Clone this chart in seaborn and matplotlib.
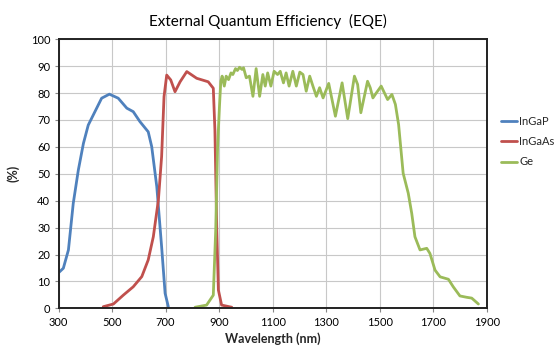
import numpy as np
import pandas as pd
import matplotlib
matplotlib.use("Agg")
import matplotlib.pyplot as plt
import seaborn as sns

# ---- data ----
ingap_wl = [300, 318, 337, 355, 374, 393, 411, 430, 461, 490, 523, 555, 579, 604, 635, 648, 667, 685, 698, 710]
ingap_eqe = [13.2, 14.9, 21.7, 39.0, 51.4, 61.3, 68.1, 71.9, 78.1, 79.6, 78.1, 74.4, 73.1, 69.4, 65.6, 60.1, 45.2, 22.9, 5.6, 0.6]

ingaas_wl = [467, 505, 542, 579, 611, 635, 654, 673, 685, 694, 704, 719, 735, 754, 779, 816, 859, 878, 884, 891, 897, 909, 947]
ingaas_eqe = [0.6, 1.6, 4.9, 8.0, 11.8, 18.0, 26.6, 40.3, 56.4, 78.7, 86.7, 84.9, 80.5, 84.2, 88.0, 85.5, 84.2, 81.8, 66.3, 29.1, 6.8, 1.2, 0.4]

ge_wl = [810, 853, 878, 887, 894, 901, 906, 911, 919, 926, 935, 944, 951, 961, 968, 976, 985, 991,
         1001, 1013, 1026, 1038, 1051, 1063, 1072, 1081, 1093, 1105, 1118, 1128, 1140, 1150, 1161,
         1175, 1188, 1201, 1213, 1225, 1238, 1250, 1263, 1275, 1288, 1309, 1334, 1359, 1380, 1405,
         1417, 1429, 1454, 1464, 1474, 1487, 1505, 1514, 1529, 1545, 1558, 1570, 1587, 1606, 1619,
         1631, 1650, 1675, 1687, 1706, 1725, 1756, 1774, 1799, 1824, 1843, 1868]
ge_eqe = [0.4, 1.2, 4.9, 29.0, 60.0, 75.0, 84.4, 86.3, 82.6, 86.3, 85.0, 87.5, 86.9, 89.1, 88.4, 89.6, 88.8, 89.4,
          85.7, 86.3, 78.8, 89.1, 78.8, 86.9, 82.6, 87.5, 82.6, 88.1, 86.9, 88.1, 83.8, 87.5, 82.6,
          88.1, 82.6, 87.8, 86.9, 80.7, 86.3, 82.6, 78.8, 82.0, 78.2, 83.6, 71.4, 83.8, 70.5, 86.3,
          83.2, 72.7, 84.4, 82.0, 78.2, 80.1, 82.6, 80.7, 77.6, 79.5, 75.8, 68.3, 50.2, 42.8, 35.3,
          26.6, 21.7, 22.3, 20.4, 14.2, 11.7, 10.8, 8.0, 4.6, 4.1, 3.8, 1.6]

series_names = ["InGaP", "InGaAs", "Ge"]
colors = ["#4F81BD", "#C0504D", "#9BBB59"]
x_ticks = [300, 500, 700, 900, 1100, 1300, 1500, 1700, 1900]
y_ticks = list(range(0, 101, 10))

df = pd.concat([
    pd.DataFrame({"Wavelength": ingap_wl, "EQE": ingap_eqe, "Series": "InGaP"}),
    pd.DataFrame({"Wavelength": ingaas_wl, "EQE": ingaas_eqe, "Series": "InGaAs"}),
    pd.DataFrame({"Wavelength": ge_wl, "EQE": ge_eqe, "Series": "Ge"}),
], ignore_index=True)

sns.set_theme(style="white")
plt.rcParams["font.family"] = ["Lato", "DejaVu Sans"]

fig = plt.figure(figsize=(5.6, 3.52), dpi=100)
ax = fig.add_axes([0.1045, 0.1241, 0.7651, 0.7643])

sns.lineplot(data=df, x="Wavelength", y="EQE", hue="Series", hue_order=series_names,
             palette=colors, linewidth=2.0, sort=False, estimator=None, ax=ax)
for ln in ax.lines:
    ln.set_solid_joinstyle("round")
    ln.set_solid_capstyle("round")

ax.set_xlim(300, 1900)
ax.set_ylim(0, 100)
ax.set_xticks(x_ticks)
ax.set_yticks(y_ticks)
ax.tick_params(axis="both", labelsize=8, length=3, width=0.8, color="#888888",
               direction="out", bottom=True, left=True, pad=3, labelcolor="black")
ax.grid(True, color="#C8C8C8", linewidth=0.8)
ax.set_axisbelow(True)
for sp in ax.spines.values():
    sp.set_visible(True)
    sp.set_color("#222222")
    sp.set_linewidth(1.4)

ax.set_xlabel("Wavelength (nm)", fontsize=9, fontweight="bold", labelpad=3)
ax.set_ylabel("(%)", fontsize=9, fontweight="bold", labelpad=8)
fig.text(0.478, 0.94, "External Quantum Efficiency  (EQE)", ha="center", va="center",
         fontsize=11, color="black")

leg = ax.legend(loc="center left", bbox_to_anchor=(1.01, 0.62), frameon=False,
                fontsize=8, handlelength=1.4, handletextpad=0.2, labelspacing=0.85,
                borderaxespad=0.5)
for h in leg.get_lines():
    h.set_linewidth(2.0)

fig.savefig("out.png", dpi=100)
